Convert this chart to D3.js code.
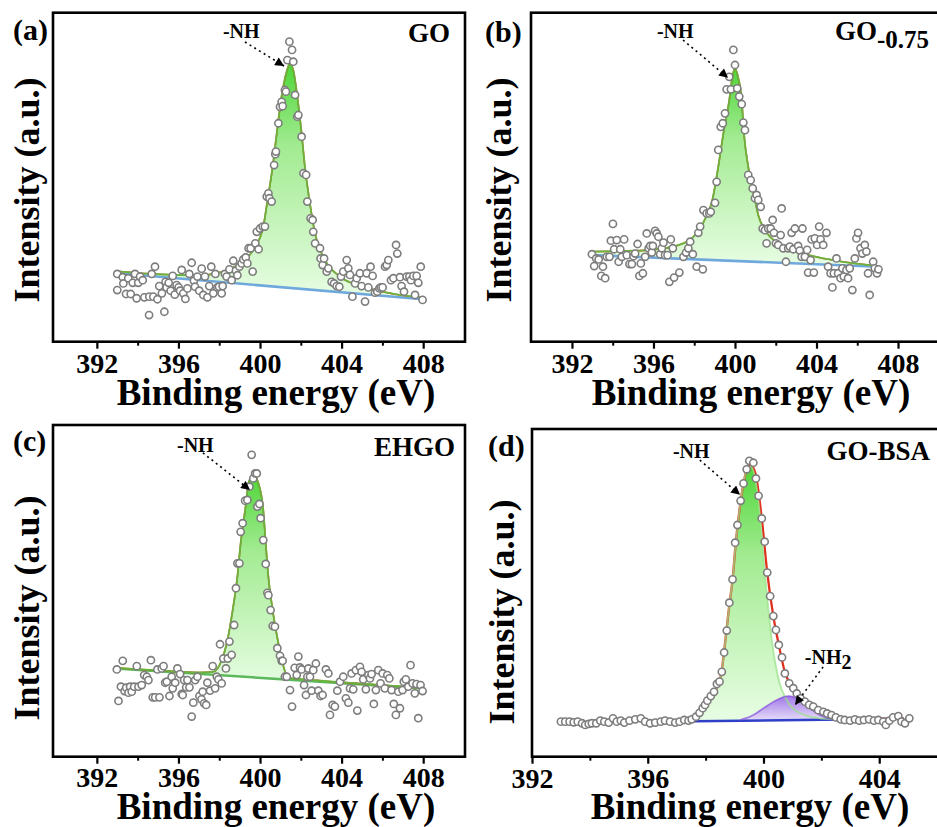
<!DOCTYPE html>
<html><head><meta charset="utf-8">
<script src="https://cdn.jsdelivr.net/npm/d3@7"></script>
<style>
body{margin:0;background:#fff}
svg text{font-family:"Liberation Serif","Times New Roman",serif !important;font-weight:bold;fill:#000}
</style>
</head><body>
<svg id="chart" width="937" height="827"></svg>
<script>
// ---------------- DATA ----------------
const panelLetters = ["(a)", "(b)", "(c)", "(d)"];
const sampleNames = ["GO", "GO", "EHGO", "GO-BSA"];
const sampleSubs = ["", "-0.75", "", ""];
const xTitle = "Binding energy (eV)";
const yTitle = "Intensity (a.u.)";
const majorTicksABC = [392, 396, 400, 404, 408];
const minorTicksABC = [394, 398, 402, 406];
const majorTicksD = [392, 396, 400, 404];
const minorTicksD = [394, 398, 402];

// [binding energy eV, intensity a.u.]
const pointsA = [[393.0,20.6],[393.0,15.7],[393.27,19.6],[393.3,17.7],[393.43,14.5],[393.54,19.3],[393.66,14.5],[393.76,17.9],[393.87,20.6],[393.95,13.2],[394.03,17.9],[394.12,19.8],[394.25,18.7],[394.33,13.5],[394.56,8.1],[394.57,13.7],[394.69,20.6],[394.77,13.7],[394.85,22.8],[394.97,12.9],[395.06,16.9],[395.19,14.7],[395.31,9.1],[395.37,18.2],[395.42,16.5],[395.52,17.9],[395.62,15.5],[395.72,20.0],[395.82,14.3],[395.91,17.2],[396.01,16.5],[396.08,15.5],[396.16,21.8],[396.24,14.7],[396.34,13.0],[396.44,16.2],[396.53,20.6],[396.65,24.0],[396.76,18.5],[396.81,16.7],[396.93,19.8],[397.02,15.5],[397.14,22.2],[397.22,14.2],[397.3,19.8],[397.42,13.5],[397.51,16.9],[397.61,22.8],[397.71,14.7],[397.81,20.6],[397.91,16.5],[397.99,16.7],[398.12,14.7],[398.17,16.9],[398.28,20.6],[398.36,19.8],[398.5,22.0],[398.61,18.7],[398.69,24.6],[398.82,21.6],[398.89,20.2],[398.99,22.8],[399.1,23.8],[399.18,25.0],[399.3,25.6],[399.38,23.8],[399.44,28.4],[399.54,28.4],[399.64,21.3],[399.77,29.9],[399.84,33.4],[399.93,28.1],[400.0,34.4],[400.13,35.0],[400.24,35.0],[400.33,44.1],[400.41,45.1],[400.46,43.6],[400.57,42.6],[400.69,53.7],[400.75,57.0],[400.78,57.8],[400.9,66.4],[400.98,71.4],[401.06,72.9],[401.11,71.6],[401.22,76.5],[401.27,76.0],[401.34,85.6],[401.44,91.2],[401.57,88.7],[401.63,85.1],[401.72,75.0],[401.83,68.4],[401.88,68.9],[402.04,62.3],[402.13,51.2],[402.26,50.7],[402.32,42.6],[402.48,37.5],[402.58,37.0],[402.61,33.4],[402.7,29.9],[402.94,28.4],[402.97,25.3],[403.07,23.3],[403.14,25.3],[403.27,21.3],[403.35,22.3],[403.51,18.2],[403.63,17.7],[403.76,16.9],[403.89,16.7],[403.97,19.8],[404.08,21.3],[404.25,24.8],[404.33,22.3],[404.41,20.3],[404.53,13.7],[404.66,17.7],[404.74,19.3],[404.9,20.8],[404.98,16.9],[405.15,12.2],[405.23,20.8],[405.31,16.5],[405.42,22.8],[405.52,20.0],[405.64,14.9],[405.75,15.2],[405.85,16.2],[405.92,16.5],[406.01,16.5],[406.13,22.8],[406.21,23.3],[406.29,24.8],[406.42,18.7],[406.54,19.3],[406.67,29.4],[406.73,26.8],[406.86,19.6],[406.94,16.9],[407.06,15.2],[407.19,19.8],[407.32,19.8],[407.4,18.7],[407.52,20.0],[407.6,14.2],[407.68,20.0],[407.76,17.9],[407.88,22.8],[407.97,12.7]];
const fitA = [[393.0,21.4],[395.0,20.5],[397.0,20.2],[398.0,21.0],[399.0,23.8],[399.67,27.9],[400.16,35.0],[400.37,43.1],[400.62,53.2],[400.82,63.3],[401.03,73.5],[401.3,82.0],[401.47,84.6],[401.65,82.0],[401.85,73.5],[402.04,63.3],[402.2,53.2],[402.42,43.1],[402.7,32.9],[403.19,24.8],[403.92,19.8],[405.06,16.7],[406.5,14.6],[408.0,13.4]];
const baseA = [[393.0,20.8],[408.0,12.9]];

const pointsB = [[392.98,26.6],[393.09,23.0],[393.19,25.3],[393.31,25.0],[393.44,20.0],[393.52,22.8],[393.63,19.3],[393.71,25.8],[393.84,25.8],[393.91,30.7],[394.01,35.8],[394.07,28.1],[394.2,30.9],[394.29,24.3],[394.37,28.1],[394.45,25.8],[394.56,31.1],[394.69,26.3],[394.82,23.6],[394.94,23.6],[395.02,26.0],[395.1,26.8],[395.22,29.7],[395.31,20.0],[395.38,23.8],[395.48,20.8],[395.59,25.8],[395.67,32.9],[395.76,28.4],[395.84,29.1],[395.92,27.1],[395.97,29.1],[396.08,33.7],[396.16,32.9],[396.24,31.9],[396.33,26.6],[396.41,28.4],[396.49,30.1],[396.57,26.3],[396.69,26.3],[396.78,18.2],[396.85,31.1],[396.95,28.4],[397.01,19.5],[397.27,21.0],[397.47,25.8],[397.6,27.1],[397.71,28.4],[397.8,30.4],[397.93,26.6],[398.12,22.8],[398.2,33.1],[398.29,35.0],[398.42,22.0],[398.45,40.0],[398.61,39.0],[398.74,39.0],[398.81,39.5],[399.02,42.2],[399.1,48.6],[399.18,58.3],[399.3,65.3],[399.4,66.4],[399.51,69.4],[399.59,76.7],[399.72,80.5],[399.8,76.7],[399.92,88.7],[400.0,84.1],[400.11,77.0],[400.21,74.5],[400.33,72.2],[400.41,66.6],[400.49,64.3],[400.65,50.7],[400.77,49.1],[400.87,46.6],[400.98,43.6],[401.06,44.6],[401.14,43.1],[401.26,41.0],[401.36,34.4],[401.47,33.9],[401.55,29.9],[401.63,34.4],[401.75,34.4],[401.85,37.0],[401.91,33.1],[402.01,29.9],[402.12,29.4],[402.29,40.5],[402.24,32.4],[402.37,28.4],[402.5,24.3],[402.61,28.4],[402.69,28.9],[402.78,33.1],[402.86,28.1],[402.94,34.4],[403.1,29.1],[403.18,27.7],[403.31,34.4],[403.27,25.8],[403.43,25.8],[403.54,27.9],[403.59,21.0],[403.71,24.8],[403.76,31.1],[403.87,21.0],[403.92,31.4],[404.03,29.4],[404.13,35.0],[404.2,31.1],[404.33,29.4],[404.49,33.1],[404.57,22.8],[404.69,20.8],[404.78,16.5],[404.85,20.8],[404.98,25.3],[405.06,20.8],[405.18,19.3],[405.27,22.3],[405.34,19.8],[405.47,21.8],[405.55,19.3],[405.63,22.3],[405.76,15.7],[405.88,25.3],[405.96,31.4],[406.04,33.1],[406.16,28.4],[406.25,26.8],[406.37,29.4],[406.45,27.4],[406.53,20.8],[406.61,14.2],[406.78,24.3],[406.86,22.3],[406.97,20.8],[407.04,22.0]];
const fitB = [[393.0,27.4],[394.7,27.6],[396.0,28.0],[397.14,29.2],[397.8,31.0],[398.12,33.0],[398.61,38.3],[398.89,43.1],[399.18,53.2],[399.43,63.3],[399.72,73.5],[399.87,80.5],[400.0,83.1],[400.15,80.5],[400.33,73.5],[400.44,63.3],[400.65,53.2],[400.98,43.1],[401.14,38.5],[401.47,34.0],[402.2,29.6],[403.0,27.4],[403.84,26.0],[405.0,24.6],[407.0,23.0]];
const baseB = [[393.0,26.3],[407.0,22.8]];

const pointsC = [[392.98,26.3],[393.06,16.8],[393.18,21.1],[393.27,28.9],[393.36,19.8],[393.44,20.8],[393.55,19.3],[393.63,21.1],[393.71,19.6],[393.83,21.1],[393.96,27.3],[394.04,21.1],[394.2,21.6],[394.32,24.6],[394.45,24.1],[394.53,23.1],[394.65,29.1],[394.74,17.9],[394.86,17.9],[394.97,26.3],[395.07,17.9],[395.18,26.6],[395.27,27.3],[395.35,22.3],[395.43,22.6],[395.56,18.3],[395.67,24.1],[395.72,20.6],[395.84,22.3],[395.95,26.6],[396.08,24.9],[396.16,18.9],[396.21,18.6],[396.28,23.1],[396.38,20.9],[396.44,23.1],[396.54,20.9],[396.65,12.1],[396.73,16.3],[396.82,23.1],[396.93,24.1],[397.03,18.3],[397.13,17.3],[397.19,19.6],[397.26,16.1],[397.36,15.6],[397.42,22.3],[397.55,19.9],[397.68,27.3],[397.8,20.6],[397.88,24.1],[397.96,23.3],[398.04,33.9],[398.12,22.1],[398.2,29.6],[398.33,26.6],[398.42,29.6],[398.5,34.7],[398.61,30.7],[398.73,39.7],[398.82,50.8],[398.89,58.3],[398.99,58.3],[399.05,67.8],[399.15,70.4],[399.27,77.2],[399.38,77.4],[399.48,81.4],[399.59,91.0],[399.67,83.9],[399.76,85.4],[399.84,85.4],[399.87,75.4],[399.97,76.2],[400.03,71.9],[400.16,65.3],[400.28,58.1],[400.36,49.4],[400.41,48.7],[400.52,44.2],[400.62,39.4],[400.73,39.2],[400.85,32.7],[400.98,30.4],[401.06,28.9],[401.11,28.9],[401.22,24.1],[401.31,24.1],[401.47,20.1],[401.57,15.1],[401.7,26.8],[401.8,24.6],[401.88,30.2],[401.96,26.9],[402.04,26.3],[402.16,21.6],[402.25,18.6],[402.32,24.1],[402.37,26.6],[402.45,24.1],[402.53,19.9],[402.61,26.1],[402.74,28.1],[402.86,19.9],[402.97,18.3],[403.07,18.6],[403.23,26.3],[403.35,25.1],[403.43,12.6],[403.56,15.6],[403.67,15.1],[403.79,19.9],[403.92,22.6],[404.08,24.1],[404.21,17.6],[404.33,16.3],[404.41,20.6],[404.49,25.1],[404.57,20.3],[404.7,26.1],[404.77,13.9],[404.9,27.1],[404.98,25.6],[405.06,23.3],[405.19,20.3],[405.31,24.6],[405.39,23.6],[405.47,24.9],[405.58,15.9],[405.68,20.1],[405.8,26.1],[405.91,22.1],[406.01,25.1],[406.12,20.6],[406.24,24.6],[406.34,23.6],[406.45,20.1],[406.56,15.9],[406.66,12.6],[406.78,19.6],[406.86,14.6],[406.99,20.1],[407.05,22.6],[407.15,23.3],[407.27,21.1],[407.38,27.6],[407.48,22.1],[407.59,19.1],[407.67,21.9],[407.76,11.6],[407.87,21.6],[407.97,19.8]];
const fitC = [[392.9,26.8],[395.0,26.0],[397.0,25.4],[397.71,25.6],[398.12,29.1],[398.37,34.2],[398.66,44.2],[398.89,54.3],[399.05,64.3],[399.27,74.4],[399.45,82.8],[399.67,84.9],[399.9,82.8],[400.16,74.4],[400.28,64.3],[400.41,54.3],[400.62,44.2],[400.9,34.2],[401.11,28.1],[401.4,23.8],[403.0,22.9],[405.0,22.0],[408.0,20.7]];
const baseC = [[392.9,26.6],[408.0,20.6]];

const pointsD = [[393.0,10.7],[393.15,10.7],[393.3,10.7],[393.44,10.5],[393.58,10.7],[393.73,10.2],[393.84,9.7],[393.96,10.0],[394.07,10.2],[394.22,10.2],[394.36,11.0],[394.5,10.7],[394.65,10.4],[394.8,11.7],[394.93,10.7],[395.07,11.0],[395.19,10.4],[395.37,11.0],[395.57,11.4],[395.76,11.7],[395.91,10.7],[396.08,10.2],[396.26,10.4],[396.45,10.7],[396.6,11.0],[396.77,10.7],[396.95,10.4],[397.1,10.7],[397.26,11.2],[397.41,11.0],[397.52,11.4],[397.67,12.2],[397.79,13.4],[397.9,14.8],[397.98,15.8],[398.06,17.1],[398.18,18.5],[398.29,19.8],[398.39,22.2],[398.48,22.9],[398.56,25.9],[398.64,31.8],[398.73,38.5],[398.82,47.0],[398.93,54.1],[399.02,65.3],[399.1,70.7],[399.21,78.1],[399.31,83.4],[399.42,87.7],[399.51,90.3],[399.65,89.7],[399.74,84.9],[399.83,79.6],[399.94,72.7],[400.04,65.6],[400.13,56.2],[400.23,49.0],[400.34,42.9],[400.43,38.7],[400.53,34.1],[400.64,30.3],[400.74,25.4],[400.89,22.4],[401.03,20.9],[401.15,19.3],[401.28,17.8],[401.43,16.8],[401.58,15.8],[401.72,15.3],[401.89,14.2],[402.07,13.7],[402.2,13.2],[402.35,12.7],[402.5,12.0],[402.67,11.4],[402.81,11.2],[402.99,11.0],[403.16,11.4],[403.31,11.0],[403.47,11.2],[403.65,11.4],[403.82,11.0],[403.97,11.2],[404.14,10.7],[404.23,9.7],[404.35,11.0],[404.48,12.0],[404.66,12.4],[404.77,10.7],[404.89,10.2],[405.04,11.7]];
const fitD_NH = [[397.5,11.1],[397.7,12.2],[398.06,16.3],[398.52,24.4],[398.67,34.6],[398.8,44.8],[398.94,54.9],[399.04,65.1],[399.17,75.3],[399.31,83.4],[399.44,88.0],[399.57,88.6],[399.7,85.5],[399.86,75.3],[400.06,54.9],[400.3,34.6],[400.5,24.4],[400.82,17.0],[401.3,13.2],[401.9,11.8],[402.4,11.4]];
const fitD_NH2 = [[399.2,11.2],[399.65,12.7],[400.0,14.8],[400.46,17.3],[400.86,18.5],[401.26,17.3],[401.61,14.8],[401.95,12.7],[402.4,11.5],[402.8,11.3]];
const envD = [[397.6,11.6],[397.8,13.2],[398.06,16.3],[398.52,24.4],[398.67,34.6],[398.8,44.8],[398.94,54.9],[399.04,65.1],[399.17,75.3],[399.31,83.4],[399.44,88.0],[399.57,88.8],[399.72,86.5],[399.94,72.7],[400.13,56.2],[400.34,42.9],[400.53,34.1],[400.74,25.8],[401.03,20.9],[401.43,16.8],[401.89,14.2],[402.5,12.2],[403.2,11.5],[404.85,11.6]];
const baseD = [[397.6,10.8],[404.85,11.6]];

// ---------------- LAYOUT ----------------
const panels = [
  {frame:[53,465,12.7,341.7], dom:[389.85,410.05], major:majorTicksABC, minor:minorTicksABC,
   pts:pointsA, base:baseA, baseColor:"#6fa8dc", env:fitA, envW:1.6, compOp:0.9,
   comps:[{data:fitA, grad:"gGreen", stroke:"#5cc23e"}],
   letter:[13,40], name:[450,42], xT:[276,405], yT:[39,190], pad:4,
   ann:[{text:"-NH", sub:"", at:[398.18,92.3], from:[399.26,91.1], to:[401.18,83.8]}]},
  {frame:[531,940,12.7,341.7], dom:[389.99,410.06], major:majorTicksABC, minor:minorTicksABC,
   pts:pointsB, base:baseB, baseColor:"#6fa8dc", env:fitB, envW:1.6, compOp:0.9,
   comps:[{data:fitB, grad:"gGreen", stroke:"#5cc23e"}],
   letter:[485,42], name:[929,40], xT:[751,405], yT:[511,190], pad:4,
   ann:[{text:"-NH", sub:"", at:[396.17,92.3], from:[397.45,91.7], to:[399.66,80.2]}]},
  {frame:[53,465,425,756.7], dom:[389.85,410.05], major:majorTicksABC, minor:minorTicksABC,
   pts:pointsC, base:baseC, baseColor:"#5cb85c", env:fitC, envW:1.6, compOp:0.9,
   comps:[{data:fitC, grad:"gGreen", stroke:"#5cc23e"}],
   letter:[13,451], name:[455,456], xT:[276,819], yT:[39,608], pad:3,
   ann:[{text:"-NH", sub:"", at:[395.93,91.9], from:[397.2,91.6], to:[399.51,80.4]}]},
  {frame:[532,940,429,756.7], dom:[392,406.1], major:majorTicksD, minor:minorTicksD,
   pts:pointsD, base:baseD, baseColor:"#2f3fc8", env:envD, envW:2.3, compOp:0.75,
   comps:[{data:fitD_NH, grad:"gGreen", stroke:"#9be08a", op:1},
          {data:fitD_NH2, grad:"gPurple", stroke:"#8a55dd", op:0.9}],
   letter:[488,456], name:[930,460], xT:[750,819], yT:[514,612], pad:4,
   ann:[{text:"-NH", sub:"", at:[396.87,91.2], from:[397.8,90.5], to:[399.19,79.9]},
        {text:"-NH", sub:"2", at:[401.43,28.3], from:[402.06,27.4], to:[401.09,15.8]}]}
];

// ---------------- DRAW ----------------
const FONT = '"Liberation Serif","Times New Roman",serif';
const svg = d3.select("#chart");
const defs = svg.append("defs");
function grad(id, stops){
  const g = defs.append("linearGradient").attr("id", id).attr("x1",0).attr("y1",0).attr("x2",0).attr("y2",1);
  stops.forEach(s => g.append("stop").attr("offset", s[0]).attr("stop-color", s[1]));
}
grad("gGreen", [["0%","#4ed638"],["35%","#a2eb91"],["100%","#e8fde4"]]);
grad("gPurple", [["0%","#9a6ae8"],["100%","#e6dafc"]]);
defs.append("marker").attr("id","arrow").attr("viewBox","0 0 10 10").attr("refX",10).attr("refY",5)
  .attr("markerUnits","userSpaceOnUse").attr("markerWidth",11).attr("markerHeight",9).attr("orient","auto")
  .append("path").attr("d","M0,0 L10,5 L0,10 z").attr("fill","#000");

panels.forEach((p, i) => {
  const [x0, x1, y0, y1] = p.frame;
  const x = d3.scaleLinear().domain(p.dom).range([x0, x1]);
  const y = d3.scaleLinear().domain([0, 100]).range([y1, y0]);
  const g = svg.append("g").attr("font-family", FONT).attr("font-weight", "bold");
  const [b0, b1] = p.base;
  const baseAt = v => b0[1] + (b1[1] - b0[1]) * (v - b0[0]) / (b1[0] - b0[0]);

  // component areas
  p.comps.forEach(c => {
    const area = d3.area().x(d => x(d[0])).y0(d => y(baseAt(d[0]))).y1(d => y(d[1])).curve(d3.curveMonotoneX);
    g.append("path").datum(c.data).attr("d", area).attr("fill", `url(#${c.grad})`).attr("opacity", c.op || 1);
  });
  // baseline
  g.append("path").datum(p.base).attr("d", d3.line().x(d => x(d[0])).y(d => y(d[1])))
    .attr("fill","none").attr("stroke", p.baseColor).attr("stroke-width", 2.6);
  // envelope (cumulative fit)
  const line = d3.line().x(d => x(d[0])).y(d => y(d[1])).curve(d3.curveMonotoneX);
  g.append("path").datum(p.env).attr("d", line).attr("fill","none").attr("stroke","#e0301e").attr("stroke-width", p.envW);
  // component outlines
  p.comps.forEach(c => {
    g.append("path").datum(c.data).attr("d", line).attr("fill","none").attr("stroke", c.stroke)
      .attr("stroke-width", 1.8).attr("opacity", p.compOp);
  });
  // data points
  g.append("g").selectAll("circle").data(p.pts).join("circle")
    .attr("cx", d => x(d[0])).attr("cy", d => y(d[1])).attr("r", 3.6)
    .attr("fill","#fff").attr("stroke","#7d7d7d").attr("stroke-width", 1.6);

  // annotations
  p.ann.forEach(a => {
    g.append("line").attr("x1", x(a.from[0])).attr("y1", y(a.from[1]))
      .attr("x2", x(a.to[0])).attr("y2", y(a.to[1]))
      .attr("stroke","#000").attr("stroke-width",1.6).attr("stroke-dasharray","2,3.5")
      .attr("marker-end","url(#arrow)");
    const t = g.append("text").attr("x", x(a.at[0])).attr("y", y(a.at[1])).attr("font-size", 20).text(a.text);
    if (a.sub) t.append("tspan").attr("dy", 5).text(a.sub);
  });

  // axes
  const ax = g.append("g").attr("transform", `translate(0,${y1})`)
    .call(d3.axisBottom(x).tickValues(p.major).tickSize(7).tickPadding(p.pad).tickFormat(d3.format("d")));
  ax.attr("font-family", FONT).attr("font-size", 28).attr("font-weight", "bold");
  ax.select(".domain").remove();
  ax.selectAll("line").attr("stroke","#000").attr("stroke-width",2.2);
  ax.selectAll("text").attr("fill","#000");
  const axm = g.append("g").attr("transform", `translate(0,${y1})`)
    .call(d3.axisBottom(x).tickValues(p.minor).tickSize(4).tickFormat(""));
  axm.select(".domain").remove();
  axm.selectAll("line").attr("stroke","#000").attr("stroke-width",2);

  // frame
  g.append("rect").attr("x", x0).attr("y", y0).attr("width", x1 - x0).attr("height", y1 - y0)
    .attr("fill","none").attr("stroke","#000").attr("stroke-width",2.6);

  // titles
  g.append("text").attr("x", p.xT[0]).attr("y", p.xT[1]).attr("text-anchor","middle")
    .attr("font-size",37).text(xTitle);
  g.append("text").attr("transform", `translate(${p.yT[0]},${p.yT[1]}) rotate(-90)`)
    .attr("text-anchor","middle").attr("font-size",36).text(yTitle);
  g.append("text").attr("x", p.letter[0]).attr("y", p.letter[1]).attr("font-size",30).text(panelLetters[i]);
  const nm = g.append("text").attr("x", p.name[0]).attr("y", p.name[1]).attr("text-anchor","end")
    .attr("font-size",27).text(sampleNames[i]);
  if (sampleSubs[i]) nm.append("tspan").attr("dy", 8).attr("font-size", 25).text(sampleSubs[i]);
});
</script>
</body></html>
